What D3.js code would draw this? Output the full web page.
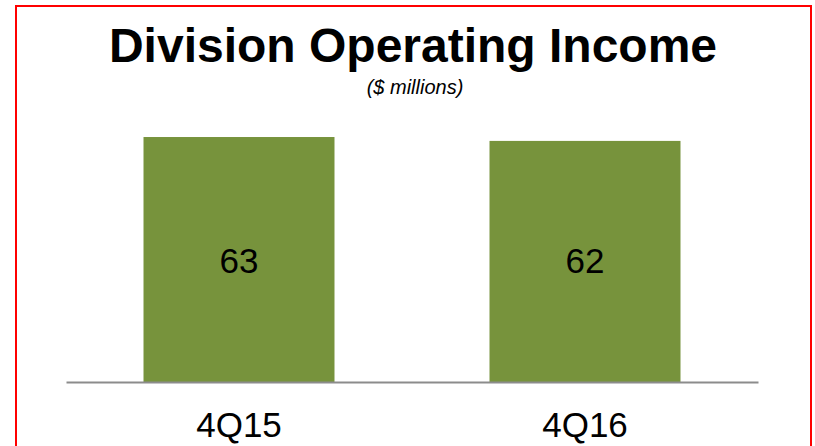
<!DOCTYPE html>
<html>
<head>
  <meta charset="utf-8">
  <style>
    body { margin: 0; background: #fff; }
    text { font-family: Arial, "Liberation Sans", sans-serif; }
  </style>
  <script src="https://d3js.org/d3.v7.min.js"></script>
</head>
<body>
<div id="chart"></div>
<script>
  var categories = ["4Q15", "4Q16"];
  var values = [63, 62];
  var title = "Division Operating Income";
  var subtitle = "($ millions)";

  var width = 815, height = 446;
  var baseY = 382, left = 66, right = 758;

  var svg = d3.select("#chart").append("svg")
      .attr("width", width)
      .attr("height", height);

  // red frame, runs off the bottom
  svg.append("rect")
      .attr("x", 16).attr("y", 6)
      .attr("width", 795).attr("height", 480)
      .attr("fill", "none")
      .attr("stroke", "#ff0000")
      .attr("stroke-width", 2);

  var x = d3.scaleBand()
      .domain(categories)
      .range([left, right])
      .paddingInner(0.448)
      .paddingOuter(0.224);

  var y = d3.scaleLinear()
      .domain([0, 70])
      .range([baseY, baseY - 272.2]);

  svg.append("text")
      .attr("x", 413).attr("y", 62)
      .attr("text-anchor", "middle")
      .style("font-size", "48px")
      .style("font-weight", "bold")
      .text(title);

  svg.append("text")
      .attr("x", 415).attr("y", 94)
      .attr("text-anchor", "middle")
      .style("font-size", "20px")
      .style("font-style", "italic")
      .text(subtitle);

  var data = categories.map(function(c, i) { return {cat: c, val: values[i]}; });

  svg.selectAll("rect.bar")
      .data(data)
      .enter().append("rect")
      .attr("class", "bar")
      .attr("x", function(d) { return x(d.cat); })
      .attr("y", function(d) { return y(d.val); })
      .attr("width", x.bandwidth())
      .attr("height", function(d) { return y(0) - y(d.val); })
      .attr("fill", "#77933c");

  svg.selectAll("text.val")
      .data(data)
      .enter().append("text")
      .attr("class", "val")
      .attr("x", function(d) { return x(d.cat) + x.bandwidth() / 2; })
      .attr("y", 273)
      .attr("text-anchor", "middle")
      .style("font-size", "35px")
      .text(function(d) { return d.val; });

  // baseline axis
  var xAxis = d3.axisBottom(x).tickSize(0).tickPadding(30);
  var axis = svg.append("g")
      .attr("transform", "translate(0," + baseY + ")")
      .call(xAxis);
  axis.select(".domain")
      .attr("stroke", "#8c8c8c")
      .attr("stroke-width", 2);
  axis.selectAll(".tick text")
      .style("font-family", "Arial, 'Liberation Sans', sans-serif")
      .style("font-size", "35px")
      .attr("fill", "#000");
</script>
</body>
</html>
